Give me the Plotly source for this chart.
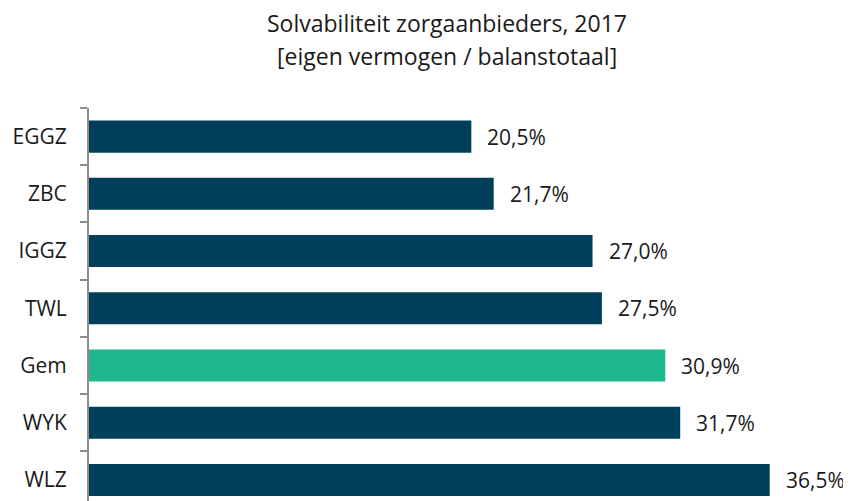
import plotly.graph_objects as go

categories = ["EGGZ", "ZBC", "IGGZ", "TWL", "Gem", "WYK", "WLZ"]
values = [20.5, 21.7, 27.0, 27.5, 30.9, 31.7, 36.5]
highlight = "Gem"
title_lines = ["Solvabiliteit zorgaanbieders, 2017", "[eigen vermogen / balanstotaal]"]

DARK = "#003F5A"
GREEN = "#1DB88C"
FONT = "'Open Sans', sans-serif"
TXT = "#1a1a1a"

# page has an 8px body margin -> compensate
W, H = 843, 493
L, T = 81, 100

colors = [GREEN if c == highlight else DARK for c in categories]
labels = [f"{v:.1f}%".replace(".", ",") for v in values]

fig = go.Figure()
fig.add_trace(go.Bar(
    x=values, y=categories, orientation="h",
    marker=dict(color=colors, line=dict(width=0)),
    hoverinfo="skip",
))

anns = []
for c, v, t in zip(categories, values, labels):
    anns.append(dict(x=v, y=c, text=t, showarrow=False, xanchor="left",
                     xshift=14, font=dict(family=FONT, size=21, color=TXT)))

plot_w = W - L - 16
for i, line in enumerate(title_lines):
    anns.append(dict(text=line, xref="paper", yref="paper",
                     x=(447 - 89) / plot_w, y=1, yshift=(108 - 23) - 33 * i,
                     xanchor="center", yanchor="middle", showarrow=False,
                     font=dict(family=FONT, size=23, color=TXT)))

fig.update_layout(
    width=W, height=H,
    margin=dict(l=L, r=16, t=T, b=0, autoexpand=False),
    paper_bgcolor="white", plot_bgcolor="white",
    bargap=0.44,
    showlegend=False,
    font=dict(family=FONT, size=21, color=TXT),
    annotations=anns,
)
fig.update_xaxes(range=[0, 40], visible=False, showgrid=False, zeroline=False)
fig.update_yaxes(
    range=[6.5 - (508.6 - 501) / 57.3, -0.5],
    showline=True, linecolor="#8c8c8c", linewidth=2,
    ticks="outside", ticklen=7, tickwidth=2, tickcolor="#8c8c8c",
    tickson="boundaries", ticklabelstandoff=16,
    showgrid=False, zeroline=False, automargin=False,
    tickfont=dict(family=FONT, size=21, color=TXT),
)
fig.update_traces(cliponaxis=False)
fig.write_html("out.html")
